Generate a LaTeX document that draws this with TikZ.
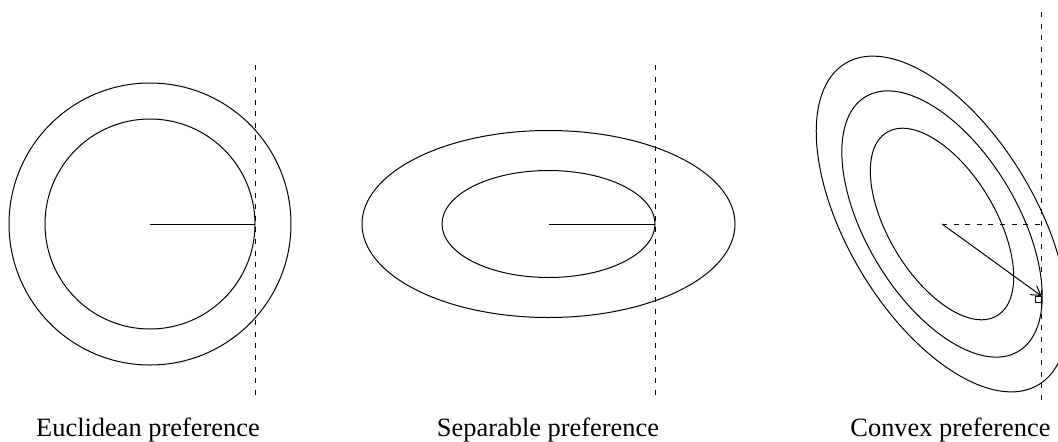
\documentclass[tikz,border=0pt]{standalone}
\usepackage{fontspec}
\setmainfont{Liberation Serif}
\usetikzlibrary{arrows.meta}

\begin{document}
\begin{tikzpicture}[x=0.5pt,y=0.5pt,
  font=\fontsize{13.2}{15}\selectfont, >={Straight Barb[length=4.5pt,width=5.5pt]},
  curve/.style={draw,line width=0.5pt},
  guide/.style={draw,line width=0.5pt,dash pattern=on 2.5pt off 3.3pt},
  lab/.style={anchor=base,inner sep=0pt}]
\useasboundingbox (0,0) rectangle (1058,441);
% centres, tangent points, ends of the dashed lines
\coordinate (cE) at (150,217);   \coordinate (tE) at (255,217);
\coordinate (cS) at (548.5,217); \coordinate (tS) at (655,217);
\coordinate (cC) at (942,217);   \coordinate (tC) at (1041.5,145); \coordinate (kC) at (1041.5,217);
\coordinate (gE1) at (255,376);  \coordinate (gE2) at (255,40);
\coordinate (gS1) at (655,376);  \coordinate (gS2) at (655,40);
\coordinate (gC1) at (1041.5,429); \coordinate (gC2) at (1041.5,40);
% Euclidean
\draw[curve] (cE) circle[radius=141]; \draw[curve] (cE) circle[radius=105];
\draw[curve] (cE)--(tE); \draw[guide] (gE1)--(gE2);
% Separable
\draw[curve] (cS) circle[x radius=186.5,y radius=93.5];
\draw[curve] (cS) circle[x radius=106.5,y radius=53.5];
\draw[curve] (cS)--(tS); \draw[guide] (gS1)--(gS2);
% Convex
\foreach \a/\b in {187.5/94,148.5/75.5,107/53.5}
  \draw[curve] (cC) circle[x radius=\a,y radius=\b,rotate=-59];
\draw[guide] (cC)--(kC); \draw[guide] (gC1)--(gC2);
\node[draw,line width=0.5pt,minimum size=3pt,inner sep=0pt,anchor=north east] (sq) at (tC) {};
\draw[curve,->] (cC)--(tC);
\node[lab] (lE) at (148,5) {Euclidean preference};
\node[lab] (lS) at (548,5) {Separable preference};
\node[lab] (lC) at (950.5,5) {Convex preference};
\end{tikzpicture}
\end{document}
